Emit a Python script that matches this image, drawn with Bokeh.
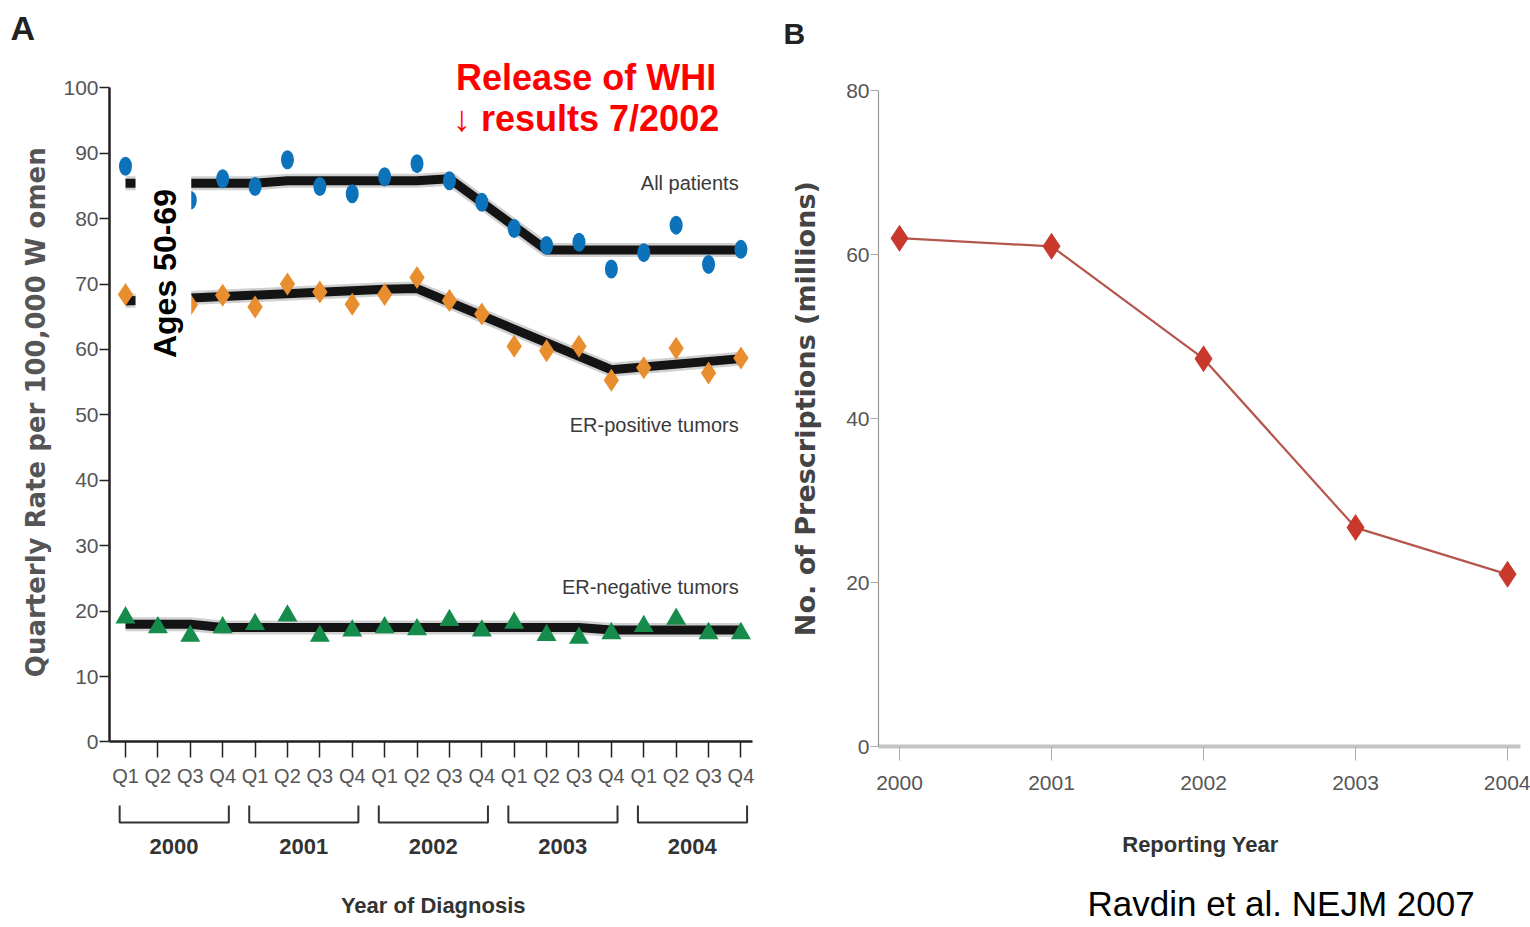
import math
from bokeh.plotting import figure
from bokeh.models import LinearAxis, FixedTicker, Range1d
from bokeh.layouts import row
from bokeh.embed import file_html
from bokeh.resources import INLINE
from bokeh.core.properties import value

# ---------------- data ----------------
quarters = ["Q1", "Q2", "Q3", "Q4"]
years = ["2000", "2001", "2002", "2003", "2004"]
quarter_labels = quarters * 5
q_index = list(range(20))

all_patients = [88.0, 86.0, 82.8, 86.1, 84.9, 89.0, 84.9, 83.8, 86.4, 88.4,
                85.8, 82.5, 78.5, 75.9, 76.4, 72.3, 74.8, 79.0, 73.0, 75.3]
er_positive = [68.4, 67.0, 66.8, 68.3, 66.5, 70.0, 68.8, 66.9, 68.4, 71.0,
               67.5, 65.4, 60.5, 59.8, 60.5, 55.3, 57.2, 60.2, 56.4, 58.7]
er_negative = [19.0, 17.5, 16.2, 17.5, 18.0, 19.3, 16.2, 17.0, 17.5, 17.2,
               18.6, 17.0, 18.2, 16.3, 15.9, 16.6, 17.7, 18.8, 16.6, 16.6]

all_trend_q = [0, 4, 5, 9, 10, 13, 19]
all_trend_v = [85.4, 85.4, 85.8, 85.8, 86.1, 75.2, 75.2]
pos_trend_q = [0, 8, 9, 15, 19]
pos_trend_v = [67.4, 69.2, 69.3, 56.9, 58.6]
neg_trend_q = [0, 2, 3, 14, 15, 19]
neg_trend_v = [18.0, 18.0, 17.5, 17.5, 17.1, 17.1]

rx_years = [2000, 2001, 2002, 2003, 2004]
rx_millions = [62.0, 61.0, 47.3, 26.7, 21.0]

ARIAL = "'Liberation Sans', Arial, sans-serif"
WIDE = "'DejaVu Sans', Verdana, sans-serif"

# ---------------- panel A ----------------
pA = figure(width=778, height=927, x_range=Range1d(-3.859, 20.16), y_range=Range1d(-28.36, 113.34),
            output_backend="svg", toolbar_location=None, x_axis_location=None, y_axis_location=None,
            min_border=0, outline_line_color=None, background_fill_color="white",
            border_fill_color="white")
pA.grid.visible = False

ya = LinearAxis(fixed_location=-0.494, bounds=(0, 100),
                ticker=FixedTicker(ticks=list(range(0, 101, 10)), minor_ticks=[]),
                axis_line_width=2.5, axis_line_color="#222222",
                major_tick_out=10, major_tick_in=0, minor_tick_out=0, minor_tick_in=0,
                major_tick_line_width=1.5, major_tick_line_color="#222222",
                major_label_standoff=1, major_label_text_font=ARIAL,
                major_label_text_font_size="21px", major_label_text_color="#555555")
pA.add_layout(ya, "left")

xa = LinearAxis(fixed_location=0, bounds=(-0.494, 19.36),
                ticker=FixedTicker(ticks=q_index, minor_ticks=[]),
                major_label_overrides={i: quarter_labels[i] for i in q_index},
                axis_line_width=2.5, axis_line_color="#222222",
                major_tick_out=16, major_tick_in=0, minor_tick_out=0, minor_tick_in=0,
                major_tick_line_width=1.5, major_tick_line_color="#222222",
                major_label_standoff=7, major_label_text_font=ARIAL,
                major_label_text_font_size="20px", major_label_text_color="#555555")
pA.add_layout(xa, "below")

# trend lines (halo + black)
for tq, tv in [(all_trend_q, all_trend_v), (pos_trend_q, pos_trend_v), (neg_trend_q, neg_trend_v)]:
    pA.line(tq, tv, line_color="#777777", line_width=14, line_alpha=0.35)
    pA.line(tq, tv, line_color="#141414", line_width=9)

pA.ellipse(q_index, all_patients, width=13, height=19, width_units="screen", height_units="screen",
           fill_color="#0c73bb", line_color=None)
pA.scatter(q_index, er_positive, marker="diamond", size=23, fill_color="#e88e2e", line_color=None)
pA.scatter(q_index, er_negative, marker="triangle", size=20, fill_color="#168c4c", line_color=None)

# white box with age label
pA.quad(left=[0.31], right=[2.03], bottom=[57.5], top=[90.5], fill_color="white", line_color=None)
pA.text(x=[1.235], y=[71.6], text=["Ages 50-69"], angle=math.pi / 2, text_align="center",
        text_baseline="middle", text_font=value(ARIAL), text_font_style="bold",
        text_font_size="32px", text_color="black")

# series labels
pA.text(x=[18.93, 18.93, 18.93], y=[85.45, 48.46, 23.69],
        text=["All patients", "ER-positive tumors", "ER-negative tumors"],
        text_align="right", text_baseline="middle", text_font=value(ARIAL),
        text_font_size="20px", text_color="#3a3a3a")

# WHI annotation
pA.text(x=[14.22, 14.22], y=[101.62, 95.25], text=["Release of WHI", "\u2193 results 7/2002"],
        text_align="center", text_baseline="middle", text_font=value(ARIAL),
        text_font_style="bold", text_font_size="36px", text_color="#ff0000")

# year brackets and labels
bx, by = [], []
for k in range(5):
    a, b = 4 * k - 0.18, 4 * k + 3.19
    bx.append([a, a, b, b])
    by.append([-9.7, -12.3, -12.3, -9.7])
pA.multi_line(bx, by, line_color="#333333", line_width=2)
pA.text(x=[4 * k + 1.5 for k in range(5)], y=[-15.97] * 5, text=years, text_align="center",
        text_baseline="middle", text_font=value(ARIAL), text_font_style="bold",
        text_font_size="22px", text_color="#333333")

pA.text(x=[9.5], y=[-24.99], text=["Year of Diagnosis"], text_align="center",
        text_baseline="middle", text_font=value(ARIAL), text_font_style="bold",
        text_font_size="22px", text_color="#333333")

pA.text(x=[-2.765], y=[50.4], text=["Quarterly Rate per 100,000 W omen"], angle=math.pi / 2,
        text_align="center", text_baseline="middle", text_font=value(WIDE), text_font_style="bold",
        text_font_size="26px", text_color="#555555")

pA.text(x=[-3.55], y=[109.07], text=["A"], text_align="left", text_baseline="middle",
        text_font=value(ARIAL), text_font_style="bold", text_font_size="34px", text_color="#222222")

# ---------------- panel B ----------------
pB = figure(width=752, height=927, x_range=Range1d(1999.204, 2004.151), y_range=Range1d(-22.07, 90.98),
            output_backend="svg", toolbar_location=None, x_axis_location=None, y_axis_location=None,
            min_border=0, outline_line_color=None, background_fill_color="white",
            border_fill_color="white")
pB.grid.visible = False

yb = LinearAxis(fixed_location=1999.862, bounds=(0, 80),
                ticker=FixedTicker(ticks=[0, 20, 40, 60, 80], minor_ticks=[]),
                axis_line_width=1.2, axis_line_color="#999999",
                major_tick_out=8, major_tick_in=0, minor_tick_out=0, minor_tick_in=0,
                major_tick_line_width=1, major_tick_line_color="#aaaaaa",
                major_label_standoff=1, major_label_text_font=ARIAL,
                major_label_text_font_size="21px", major_label_text_color="#555555")
pB.add_layout(yb, "left")

xb = LinearAxis(fixed_location=0, bounds=(1999.862, 2004.086),
                ticker=FixedTicker(ticks=rx_years, minor_ticks=[]),
                axis_line_width=4, axis_line_color="#c4c4c4",
                major_tick_out=14, major_tick_in=0, minor_tick_out=0, minor_tick_in=0,
                major_tick_line_width=1, major_tick_line_color="#aaaaaa",
                major_label_standoff=15, major_label_text_font=ARIAL,
                major_label_text_font_size="21px", major_label_text_color="#555555")
pB.add_layout(xb, "below")

pB.line(rx_years, rx_millions, line_color="#b4564b", line_width=2.2)
pB.scatter(rx_years, rx_millions, marker="diamond", size=27, fill_color="#c8392b", line_color=None)

pB.text(x=[1999.382], y=[41.2], text=["No. of Prescriptions (millions)"], angle=math.pi / 2,
        text_align="center", text_baseline="middle", text_font=value(WIDE), text_font_style="bold",
        text_font_size="27px", text_color="#444444")

pB.text(x=[2001.98], y=[-11.89], text=["Reporting Year"], text_align="center",
        text_baseline="middle", text_font=value(ARIAL), text_font_style="bold",
        text_font_size="22px", text_color="#333333")

pB.text(x=[1999.237], y=[87.0], text=["B"], text_align="left", text_baseline="middle",
        text_font=value(ARIAL), text_font_style="bold", text_font_size="30px", text_color="#222222")

pB.text(x=[2001.237], y=[-19.2], text=["Ravdin et al. NEJM 2007"], text_align="left",
        text_baseline="middle", text_font=value(ARIAL), text_font_size="35px", text_color="black")

layout = row(pA, pB)
open("out.html", "w").write(file_html(layout, INLINE))
